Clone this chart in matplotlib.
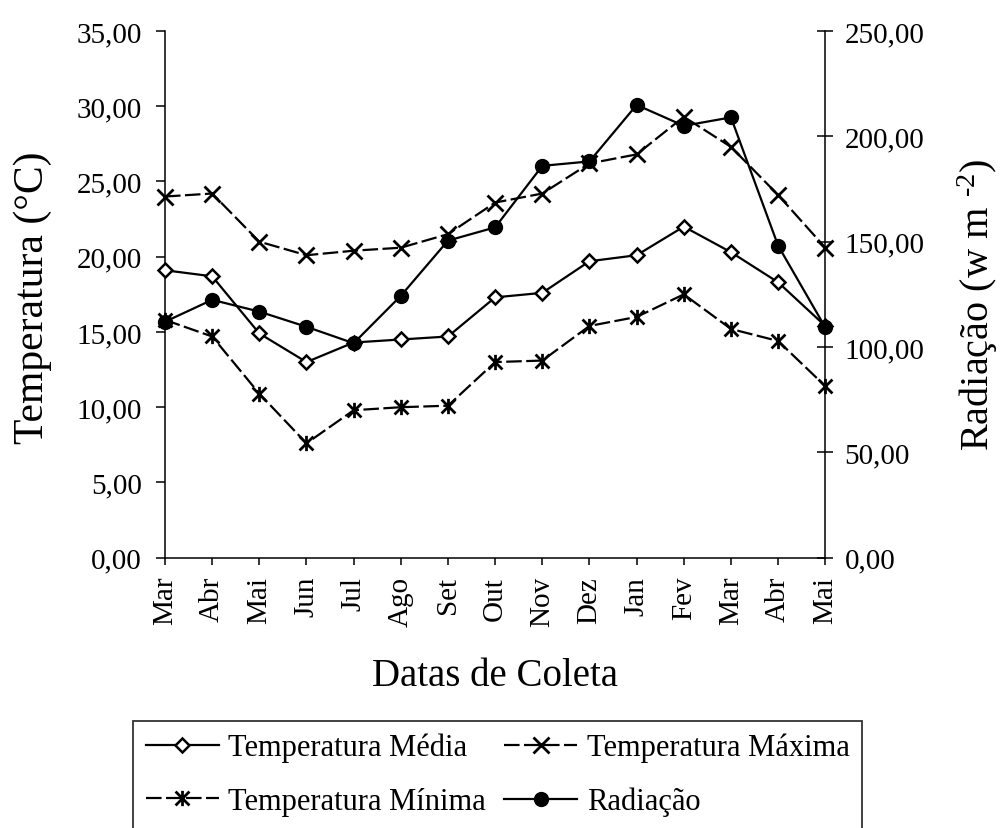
import matplotlib
matplotlib.use("Agg")
import matplotlib.pyplot as plt
from matplotlib.path import Path

plt.rcParams['font.family'] = ['Liberation Serif', 'DejaVu Serif']
plt.rcParams['mathtext.fontset'] = 'custom'
plt.rcParams['mathtext.rm'] = 'Liberation Serif'
plt.rcParams['mathtext.it'] = 'Liberation Serif'

# ---- data ----
months = ["Mar", "Abr", "Mai", "Jun", "Jul", "Ago", "Set", "Out", "Nov",
          "Dez", "Jan", "Fev", "Mar", "Abr", "Mai"]
temp_media = [19.1, 18.7, 14.9, 13.0, 14.3, 14.5, 14.7, 17.3, 17.6,
              19.7, 20.1, 22.0, 20.3, 18.3, 15.4]
temp_max = [24.0, 24.2, 21.0, 20.1, 20.4, 20.6, 21.5, 23.6, 24.2,
            26.2, 26.8, 29.3, 27.3, 24.1, 20.6]
temp_min = [15.8, 14.7, 10.9, 7.6, 9.8, 10.0, 10.1, 13.0, 13.1,
            15.4, 16.0, 17.5, 15.2, 14.4, 11.4]
radiacao = [112.0, 122.4, 116.8, 109.6, 101.8, 124.3, 150.5, 156.8, 186.0,
            188.1, 214.9, 205.0, 209.0, 148.1, 109.3]
left_ticks = [0, 5, 10, 15, 20, 25, 30, 35]
right_ticks = [0, 50, 100, 150, 200, 250]

W, H = 1002, 829
fig = plt.figure(figsize=(W / 100, H / 100), dpi=100)
x0, x1 = 165, 825.3
y0, y1 = 558.7, 32
ax = fig.add_axes([x0 / W, 1 - y0 / H, (x1 - x0) / W, (y0 - y1) / H])
ax2 = ax.twinx()

xs = list(range(len(months)))

ast = Path([(-1, -1), (1, 1), (-1, 1), (1, -1), (0, -1.1), (0, 1.1)],
           [Path.MOVETO, Path.LINETO, Path.MOVETO, Path.LINETO, Path.MOVETO, Path.LINETO])

lw = 1.6
dash = (0, (7, 2))
l1, = ax.plot(xs, temp_media, color='black', lw=lw, marker='D', ms=7.5,
              mfc='white', mec='black', mew=1.8, clip_on=False, zorder=3,
              label='Temperatura Média')
l2, = ax.plot(xs, temp_max, color='black', lw=lw, ls=dash, marker='x', ms=12,
              mew=2, clip_on=False, zorder=3, label='Temperatura Máxima')
l3, = ax.plot(xs, temp_min, color='black', lw=lw, ls=dash, marker=ast, ms=11,
              mew=2, clip_on=False, zorder=3, label='Temperatura Mínima')
l4, = ax2.plot(xs, radiacao, color='black', lw=lw, marker='o', ms=10,
               clip_on=False, zorder=3, label='Radiação')

ax.set_xlim(0, len(months) - 1)
ax.set_ylim(0, 35)
ax2.set_ylim(0, 250)
ax.set_yticks(left_ticks)
ax.set_yticklabels([f"{v:.2f}".replace('.', ',') for v in left_ticks])
ax2.set_yticks(right_ticks)
ax2.set_yticklabels([f"{v:.2f}".replace('.', ',') for v in right_ticks])
ax.set_xticks(xs)
ax.set_xticklabels(months, rotation=90)

for a in (ax, ax2):
    a.spines['top'].set_visible(False)
    for s in a.spines.values():
        s.set_linewidth(1.1)
ax.spines['right'].set_visible(False)
ax2.spines['left'].set_visible(False)
ax2.spines['bottom'].set_visible(False)

ax.tick_params(axis='y', direction='out', length=6.5, width=1.1, labelsize=21, pad=10)
ax.tick_params(axis='x', direction='out', length=5, width=1.1, labelsize=21, pad=8)
ax2.tick_params(axis='y', direction='inout', length=11.5, width=1.1, labelsize=21, pad=8)

fig.text(33 / W, 1 - 298 / H, 'Temperatura (°C)', rotation=90, ha='center',
         va='center', fontsize=30)
fig.text(978 / W, 1 - 305 / H, 'Radiação (w m $^{\\text{-}2}$)', rotation=90,
         ha='center', va='center', fontsize=29)
fig.text(495.5 / W, 1 - 677 / H, 'Datas de Coleta', ha='center', va='center',
         fontsize=28)

leg = fig.legend(handles=[l1, l3, l2, l4], ncol=2, loc='upper left',
                 bbox_to_anchor=(133.3 / W, 1 - 721.7 / H), borderaxespad=0,
                 fontsize=22, frameon=True, fancybox=False, framealpha=1,
                 edgecolor='#333333', handlelength=2.4, handletextpad=0.3,
                 columnspacing=0.6, labelspacing=0.8, borderpad=0.4,
                 numpoints=1)
leg.get_frame().set_linewidth(1.3)

fig.savefig('out.png', dpi=100)
